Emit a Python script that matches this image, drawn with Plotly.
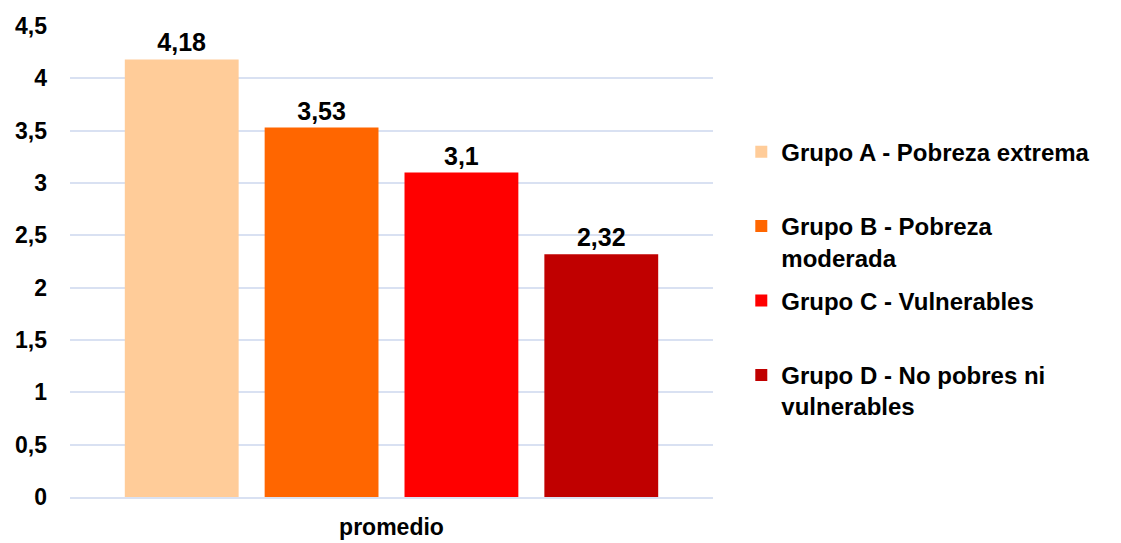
import plotly.graph_objects as go

# Datos
categoria = ["promedio"]
grupos = ["Grupo A - Pobreza extrema", "Grupo B - Pobreza<br>moderada",
          "Grupo C - Vulnerables", "Grupo D - No pobres ni<br>vulnerables"]
valores = [4.18, 3.53, 3.1, 2.32]
colores = ["#FFCC99", "#FF6600", "#FF0000", "#C00000"]

FONT = "Liberation Sans, Arial, sans-serif"

fig = go.Figure()

for i, (nombre, v, c) in enumerate(zip(grupos, valores, colores)):
    # single-line entries get an empty second line so legend slots are even
    etiqueta = nombre if "<br>" in nombre else nombre + "<br> "
    fig.add_trace(go.Bar(
        name=etiqueta,
        legendgroup=f"g{i}",
        x=categoria,
        y=[v],
        marker_color=c,
        marker_line_width=0,
        text=[str(v).replace(".", ",")],
        textposition="outside",
        textfont=dict(family=FONT, size=25, color="#000000", weight="bold"),
        cliponaxis=False,
    ))

fig.update_layout(
    width=1113,
    height=535,
    barmode="group",
    bargap=0.13,
    bargroupgap=0.186,
    separators=",.",
    plot_bgcolor="white",
    paper_bgcolor="white",
    margin=dict(l=62, r=408, t=18, b=46, autoexpand=False),
    font=dict(family=FONT, color="#000000"),
    showlegend=True,
    legend=dict(
        x=1.044, xanchor="left",
        y=0.78, yanchor="top",
        font=dict(family=FONT, size=24, color="#000000", weight="bold"),
        valign="top",
        tracegroupgap=9,
        itemclick=False,
    ),
    yaxis=dict(
        range=[0, 4.5],
        dtick=0.5,
        tickformat=".1~f",
        showgrid=True,
        gridcolor="#D9E1F2",
        gridwidth=2,
        zeroline=False,
        showline=False,
        ticks="",
        ticklabelstandoff=22,
        automargin=False,
        tickfont=dict(family=FONT, size=23, color="#000000", weight="bold"),
    ),
    xaxis=dict(
        showline=True,
        linecolor="#D9E1F2",
        linewidth=2,
        ticks="",
        ticklabelstandoff=8,
        automargin=False,
        tickfont=dict(family=FONT, size=23, color="#000000", weight="bold"),
    ),
)

fig.write_html("out.html")
